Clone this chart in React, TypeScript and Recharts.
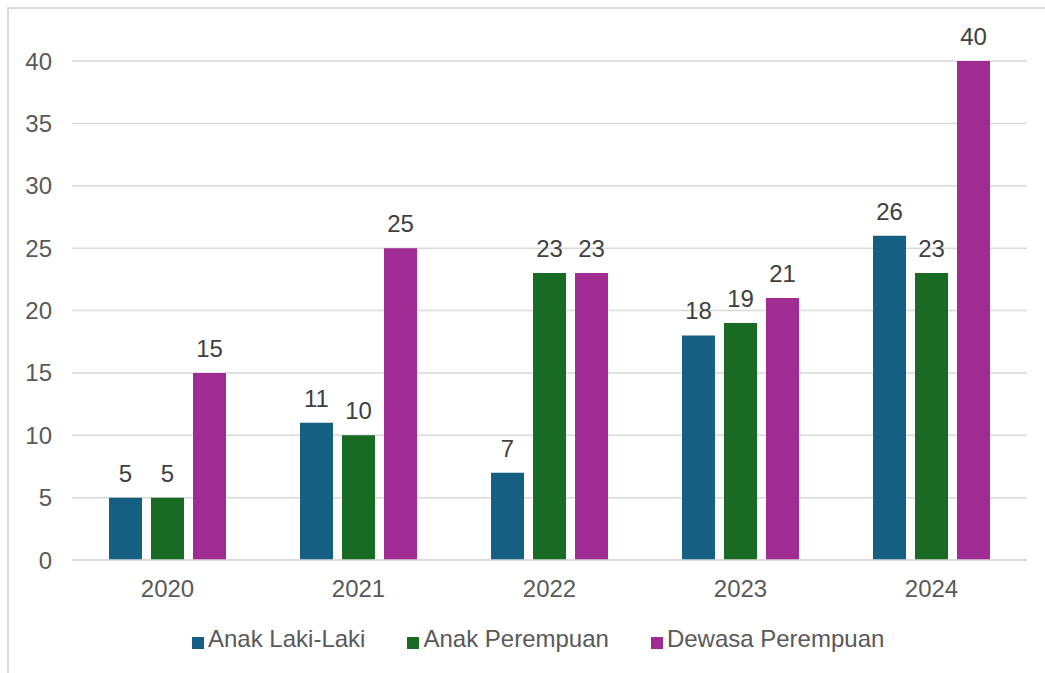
import React from "react";
import { BarChart, Bar, XAxis, YAxis, CartesianGrid, Legend, LabelList } from "recharts";

const years = ["2020", "2021", "2022", "2023", "2024"];
const anakLakiLaki = [5, 11, 7, 18, 26];
const anakPerempuan = [5, 10, 23, 19, 23];
const dewasaPerempuan = [15, 25, 23, 21, 40];
const yTicks = [0, 5, 10, 15, 20, 25, 30, 35, 40];

const seriesNames = ["Anak Laki-Laki", "Anak Perempuan", "Dewasa Perempuan"];
const seriesColors = ["#156082", "#196B24", "#A02B93"];

const data = years.map((y, i) => ({
  year: y,
  a: anakLakiLaki[i],
  b: anakPerempuan[i],
  c: dewasaPerempuan[i],
}));

const FONT = "'Liberation Sans', Arial, sans-serif";
const FS = 24;

export default function App() {
  const keys = ["a", "b", "c"];
  return (
    <div>
      <style>{`.recharts-legend-item { margin-right: 42px !important; } .recharts-legend-item:last-child { margin-right: 0 !important; }`}</style>
      <div
        style={{
          position: "absolute",
          left: 7,
          top: 7,
          width: 1100,
          height: 700,
          border: "2px solid #D9D9D9",
          boxSizing: "border-box",
        }}
      />
      <div style={{ position: "absolute", left: 0, top: 0, width: 1045, height: 673 }}>
        <BarChart
          width={1045}
          height={673}
          data={data}
          margin={{ top: 61, right: 18, bottom: 20, left: 0 }}
          barCategoryGap={37}
          barGap={9}
          style={{ fontFamily: FONT }}
        >
          <CartesianGrid vertical={false} stroke="#D9D9D9" strokeWidth={1.5} />
          <XAxis
            dataKey="year"
            height={65}
            axisLine={{ stroke: "#D9D9D9", strokeWidth: 1.5 }}
            tickLine={false}
            tickSize={0}
            tickMargin={20}
            tick={{ fill: "#595959", fontSize: FS, fontFamily: FONT }}
          />
          <YAxis
            width={72}
            domain={[0, 40]}
            ticks={yTicks}
            axisLine={false}
            tickLine={false}
            tickSize={0}
            tickMargin={20}
            tick={{ fill: "#595959", fontSize: FS, fontFamily: FONT }}
          />
          <Legend
            verticalAlign="bottom"
            align="center"
            iconType="square"
            iconSize={12}
            wrapperStyle={{ left: 192, width: "auto" }}
            formatter={(value: string) => (
              <span style={{ color: "#595959", fontSize: FS, fontFamily: FONT }}>{value}</span>
            )}
          />
          {keys.map((k, i) => (
            <Bar
              key={k}
              dataKey={k}
              name={seriesNames[i]}
              fill={seriesColors[i]}
              isAnimationActive={false}
            >
              <LabelList
                dataKey={k}
                position="top"
                offset={16}
                fill="#404040"
                fontSize={FS}
                fontFamily={FONT}
              />
            </Bar>
          ))}
        </BarChart>
      </div>
    </div>
  );
}
